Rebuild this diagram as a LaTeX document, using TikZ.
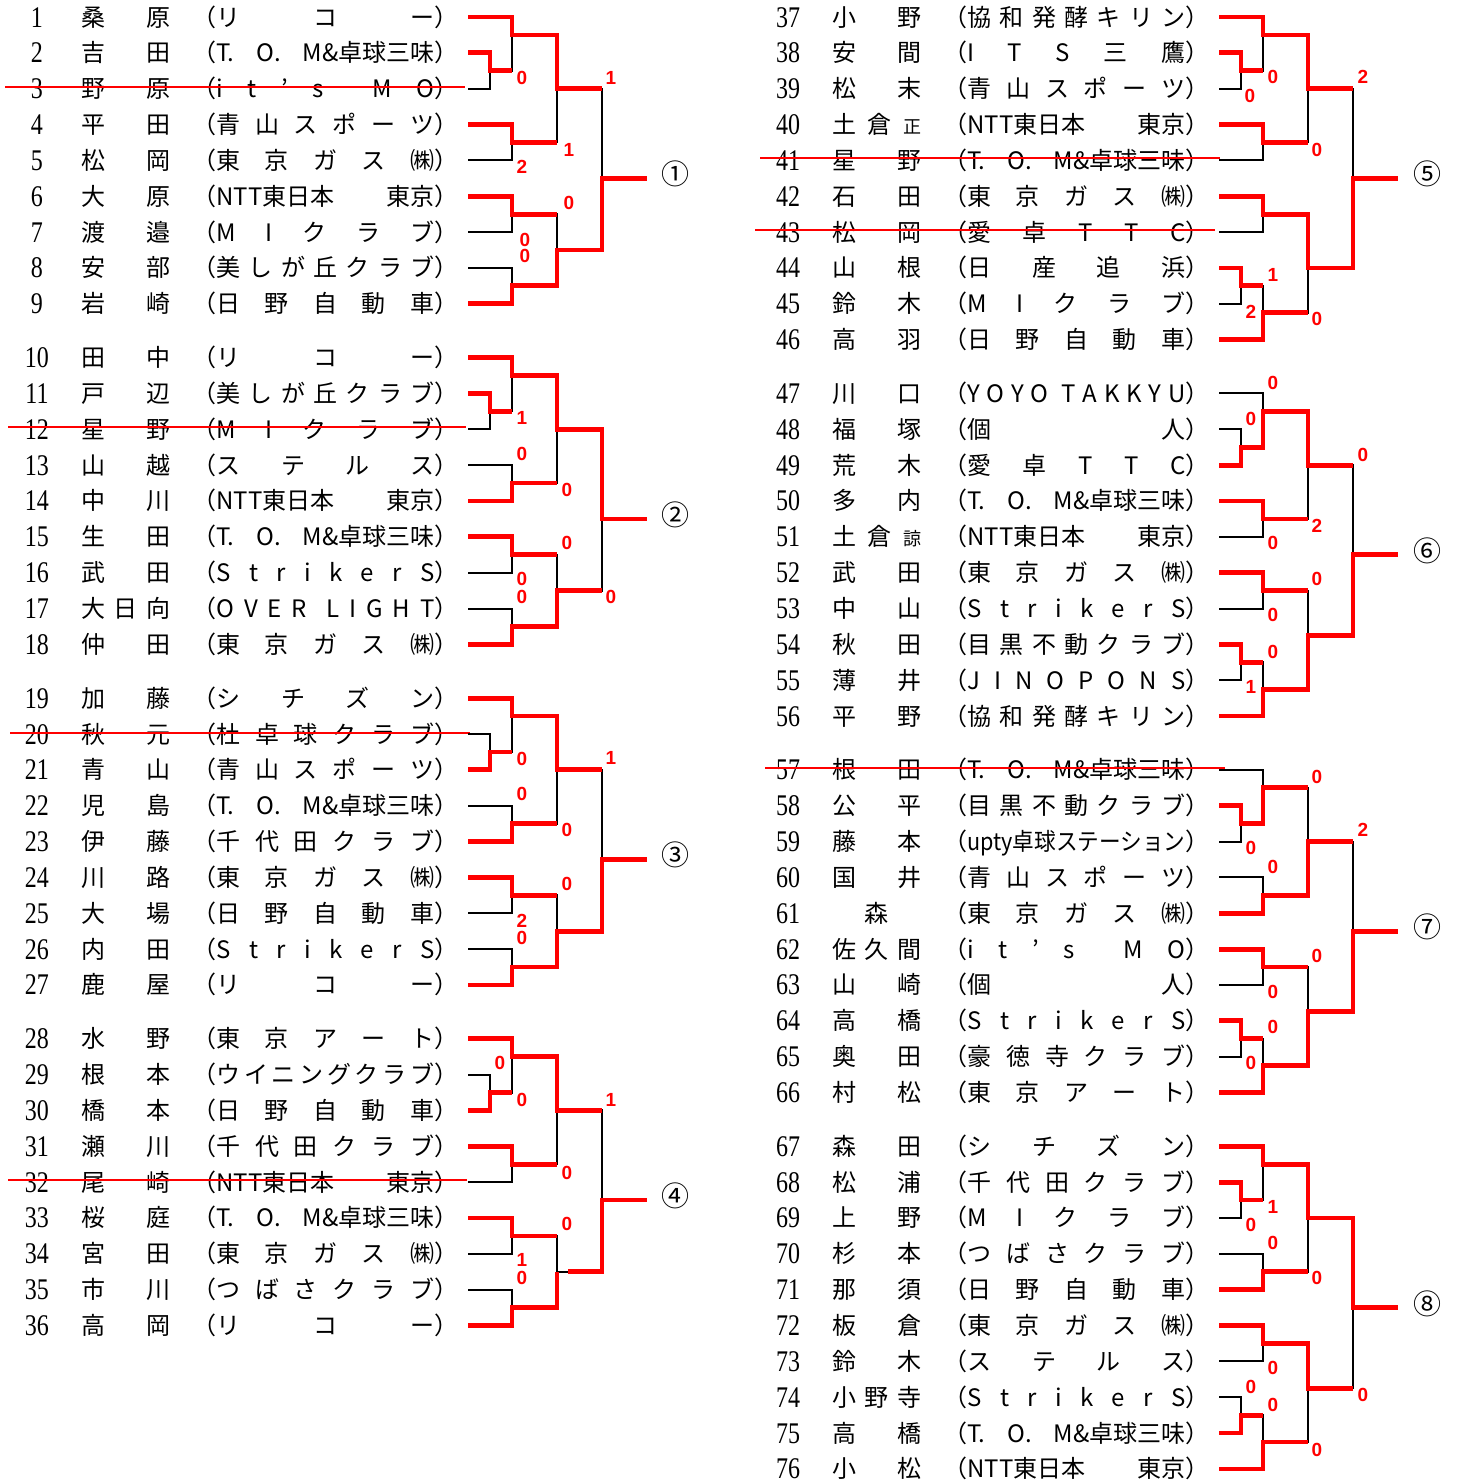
\documentclass[tikz,border=0pt]{standalone}
\usepackage{fontspec}
\setmainfont{Noto Sans CJK JP}
\newfontfamily\numfont[FakeStretch=0.8]{Liberation Serif}
\newfontfamily\scorefont{Liberation Sans}
\usepackage{graphicx}
\definecolor{WinRed}{RGB}{255,0,0}
\newcommand\tom{T.\ O.\ M\&卓球三味}
\newcommand\ntt{NTT東日本 東京}

\begin{document}
\begin{tikzpicture}[
    x=0.5pt, y=-17.925pt,
    num/.style={font=\numfont\fontsize{15pt}{15pt}\selectfont,
      inner sep=0pt, text height=10pt, text depth=0pt},
    player/.style={font=\fontsize{12pt}{12pt}\selectfont, anchor=west,
      inner sep=0pt, text height=10pt, text depth=1pt},
    wire/.style={line width=1pt, black},
    win/.style={line width=2.4pt, WinRed},
    strike/.style={line width=1pt, WinRed},
    score/.style={font=\scorefont\bfseries\fontsize{9.5pt}{9.5pt}\selectfont,
      text=WinRed, inner sep=0pt},
    pool/.style={font=\fontsize{14pt}{14pt}\selectfont, inner sep=0pt,
      text height=11pt, text depth=1pt}
  ]
  \useasboundingbox (0,-0.4742) rectangle (1459,40.9205);

  % left column entries
  \foreach \k/\nm/\tm in {
    1/{桑 原}/{リ コ ー},
    2/{吉 田}/{\tom},
    3/{野 原}/{i t ’ s\ \ M O},
    4/{平 田}/{青 山 ス ポ ー ツ},
    5/{松 岡}/{東 京 ガ ス ㈱},
    6/{大 原}/{\ntt},
    7/{渡 邉}/{M I ク ラ ブ},
    8/{安 部}/{美 し が 丘 ク ラ ブ},
    9/{岩 崎}/{日 野 自 動 車},
    10/{田 中}/{リ コ ー},
    11/{戸 辺}/{美 し が 丘 ク ラ ブ},
    12/{星 野}/{M I ク ラ ブ},
    13/{山 越}/{ス テ ル ス},
    14/{中 川}/{\ntt},
    15/{生 田}/{\tom},
    16/{武 田}/{S t r i k e r S},
    17/{大 日 向}/{O V E R\ \ L I G H T},
    18/{仲 田}/{東 京 ガ ス ㈱},
    19/{加 藤}/{シ チ ズ ン},
    20/{秋 元}/{杜 卓 球 ク ラ ブ},
    21/{青 山}/{青 山 ス ポ ー ツ},
    22/{児 島}/{\tom},
    23/{伊 藤}/{千 代 田 ク ラ ブ},
    24/{川 路}/{東 京 ガ ス ㈱},
    25/{大 場}/{日 野 自 動 車},
    26/{内 田}/{S t r i k e r S},
    27/{鹿 屋}/{リ コ ー},
    28/{水 野}/{東 京 ア ー ト},
    29/{根 本}/{ウ イ ニ ン グ ク ラ ブ},
    30/{橋 本}/{日 野 自 動 車},
    31/{瀬 川}/{千 代 田 ク ラ ブ},
    32/{尾 崎}/{\ntt},
    33/{桜 庭}/{\tom},
    34/{宮 田}/{東 京 ガ ス ㈱},
    35/{市 川}/{つ ば さ ク ラ ブ},
    36/{高 岡}/{リ コ ー}} {
    \pgfmathsetmacro\R{9.5*int((\k-1)/9)+mod(\k-1,9)}
    \node[num] (no\k) at (37,\R) {\k};
    \node[player] (nm\k) at (81,\R) {\makebox[44.5pt][s]{\nm}};
    \node[player] (cl\k) at (192,\R) {（\makebox[109pt][s]{\tm}）};
  }

  % right column entries
  \foreach \k/\nm/\tm in {
    37/{小 野}/{協 和 発 酵 キ リ ン},
    38/{安 間}/{I T S 三 鷹},
    39/{松 末}/{青 山 ス ポ ー ツ},
    40/{土 倉 {\fontsize{9pt}{9pt}\selectfont 正}}/{\ntt},
    41/{星 野}/{\tom},
    42/{石 田}/{東 京 ガ ス ㈱},
    43/{松 岡}/{愛 卓 T T C},
    44/{山 根}/{日 産 追 浜},
    45/{鈴 木}/{M I ク ラ ブ},
    46/{高 羽}/{日 野 自 動 車},
    47/{川 口}/{Y O Y O\ \ T A K K Y U},
    48/{福 塚}/{個 人},
    49/{荒 木}/{愛 卓 T T C},
    50/{多 内}/{\tom},
    51/{土 倉 {\fontsize{9pt}{9pt}\selectfont 諒}}/{\ntt},
    52/{武 田}/{東 京 ガ ス ㈱},
    53/{中 山}/{S t r i k e r S},
    54/{秋 田}/{目 黒 不 動 ク ラ ブ},
    55/{薄 井}/{J I N O P O N S},
    56/{平 野}/{協 和 発 酵 キ リ ン},
    57/{根 田}/{\tom},
    58/{公 平}/{目 黒 不 動 ク ラ ブ},
    59/{藤 本}/{\resizebox{109pt}{\height}{upty卓球ステーション}},
    60/{国 井}/{青 山 ス ポ ー ツ},
    61/{\hfil 森\hfil}/{東 京 ガ ス ㈱},
    62/{佐 久 間}/{i t ’ s\ \ M O},
    63/{山 崎}/{個 人},
    64/{高 橋}/{S t r i k e r S},
    65/{奥 田}/{豪 徳 寺 ク ラ ブ},
    66/{村 松}/{東 京 ア ー ト},
    67/{森 田}/{シ チ ズ ン},
    68/{松 浦}/{千 代 田 ク ラ ブ},
    69/{上 野}/{M I ク ラ ブ},
    70/{杉 本}/{つ ば さ ク ラ ブ},
    71/{那 須}/{日 野 自 動 車},
    72/{板 倉}/{東 京 ガ ス ㈱},
    73/{鈴 木}/{ス テ ル ス},
    74/{小 野 寺}/{S t r i k e r S},
    75/{高 橋}/{\tom},
    76/{小 松}/{\ntt}} {
    \pgfmathsetmacro\R{10.5*int((\k-37)/10)+mod(\k-37,10)}
    \node[num] (no\k) at (788,\R) {\k};
    \node[player] (nm\k) at (832,\R) {\makebox[44.5pt][s]{\nm}};
    \node[player] (cl\k) at (943,\R) {（\makebox[109pt][s]{\tm}）};
  }

  % withdrawn entries
  \draw[strike] (5,1.95) -- (465,1.95);
  \draw[strike] (8,11.45) -- (466,11.45);
  \draw[strike] (10,19.97) -- (470,19.97);
  \draw[strike] (8,32.45) -- (467,32.45);
  \draw[strike] (760,3.94) -- (1220,3.94);
  \draw[strike] (755,5.95) -- (1215,5.95);
  \draw[strike] (765,20.94) -- (1225,20.94);

  % bracket lines, left blocks
  \foreach \b in {0,9.5,19,28.5} {
    \begin{scope}[shift={(0,\b)}]
      \draw[wire] (468,0) -- (512,0) -- (512,1.5) -- (490,1.5);
      \draw[wire] (468,1) -- (490,1) -- (490,2) -- (468,2);
      \draw[wire] (468,3) -- (512,3) -- (512,4) -- (468,4);
      \draw[wire] (468,5) -- (512,5) -- (512,6) -- (468,6);
      \draw[wire] (468,7) -- (512,7) -- (512,8) -- (468,8);
      \draw[wire] (512,0.5) -- (557,0.5) -- (557,3.5) -- (512,3.5);
      \draw[wire] (512,5.5) -- (557,5.5) -- (557,7.5) -- (512,7.5);
      \draw[wire] (557,2) -- (602,2) -- (602,6.5) -- (557,6.5);
      \draw[wire] (602,4.5) -- (647,4.5);
    \end{scope}
  }

  % bracket lines, right blocks
  \foreach \b/\m in {0/7,10.5/6.75,21/6.75,31.5/6.75} {
    \begin{scope}[shift={(751,\b)}]
      \draw[wire] (468,0) -- (512,0) -- (512,1.5) -- (490,1.5);
      \draw[wire] (468,1) -- (490,1) -- (490,2) -- (468,2);
      \draw[wire] (468,3) -- (512,3) -- (512,4) -- (468,4);
      \draw[wire] (468,5) -- (512,5) -- (512,6) -- (468,6);
      \draw[wire] (468,7) -- (490,7) -- (490,8) -- (468,8);
      \draw[wire] (468,9) -- (512,9) -- (512,7.5) -- (490,7.5);
      \draw[wire] (512,0.5) -- (557,0.5) -- (557,3.5) -- (512,3.5);
      \draw[wire] (512,5.5) -- (557,5.5) -- (557,8.25) -- (512,8.25);
      \draw[wire] (557,2) -- (602,2) -- (602,\m) -- (557,\m);
      \draw[wire] (602,4.5) -- (647,4.5);
    \end{scope}
  }

  % block 1
  \begin{scope}
    \draw[win] (468,0) -- (512,0) -- (512,0.5) -- (557,0.5) -- (557,2) -- (602,2);
    \draw[win] (468,1) -- (490,1) -- (490,1.5) -- (512,1.5);
    \draw[win] (468,3) -- (512,3) -- (512,3.5) -- (557,3.5);
    \draw[win] (468,5) -- (512,5) -- (512,5.5) -- (557,5.5);
    \draw[win] (468,8) -- (512,8) -- (512,7.5) -- (557,7.5) -- (557,6.5)
      -- (602,6.5) -- (602,4.5) -- (647,4.5);
    \foreach \x/\y/\v [count=\i] in {522/1.70/0, 611/1.70/1, 569/3.71/1,
        522/4.18/2, 569/5.19/0, 525/6.22/0, 525/6.67/0}
      \node[score] (s1-\i) at (\x,\y) {\v};
    \node[pool] (pool1) at (675,4.4) {①};
  \end{scope}

  % block 2
  \begin{scope}[shift={(0,9.5)}]
    \draw[win] (468,0) -- (512,0) -- (512,0.5) -- (557,0.5) -- (557,2) -- (602,2)
      -- (602,4.5) -- (647,4.5);
    \draw[win] (468,1) -- (490,1) -- (490,1.5) -- (512,1.5);
    \draw[win] (468,4) -- (512,4) -- (512,3.5) -- (557,3.5);
    \draw[win] (468,5) -- (512,5) -- (512,5.5) -- (557,5.5);
    \draw[win] (468,8) -- (512,8) -- (512,7.5) -- (557,7.5) -- (557,6.5) -- (602,6.5);
    \foreach \x/\y/\v [count=\i] in {522/1.69/1, 522/2.69/0, 567/3.70/0,
        567/5.17/0, 522/6.18/0, 522/6.67/0, 611/6.67/0}
      \node[score] (s2-\i) at (\x,\y) {\v};
    \node[pool] (pool2) at (675,4.4) {②};
  \end{scope}

  % block 3
  \begin{scope}[shift={(0,19)}]
    \draw[win] (468,0) -- (512,0) -- (512,0.5) -- (557,0.5) -- (557,2) -- (602,2);
    \draw[win] (468,2) -- (490,2) -- (490,1.5) -- (512,1.5);
    \draw[win] (468,4) -- (512,4) -- (512,3.5) -- (557,3.5);
    \draw[win] (468,5) -- (512,5) -- (512,5.5) -- (557,5.5);
    \draw[win] (468,8) -- (512,8) -- (512,7.5) -- (557,7.5) -- (557,6.5)
      -- (602,6.5) -- (602,4.5) -- (647,4.5);
    \foreach \x/\y/\v [count=\i] in {522/1.69/0, 611/1.66/1, 522/2.68/0,
        567/3.68/0, 567/5.18/0, 522/6.20/2, 522/6.69/0}
      \node[score] (s3-\i) at (\x,\y) {\v};
    \node[pool] (pool3) at (675,4.4) {③};
  \end{scope}

  % block 4
  \begin{scope}[shift={(0,28.5)}]
    \draw[win] (468,0) -- (512,0) -- (512,0.5) -- (557,0.5) -- (557,2) -- (602,2);
    \draw[win] (468,2) -- (490,2) -- (490,1.5) -- (512,1.5);
    \draw[win] (468,3) -- (512,3) -- (512,3.5) -- (557,3.5);
    \draw[win] (468,5) -- (512,5) -- (512,5.5) -- (557,5.5);
    \draw[win] (468,8) -- (512,8) -- (512,7.5) -- (557,7.5) -- (557,6.5);
    \draw[win] (568,6.5) -- (602,6.5) -- (602,4.5) -- (647,4.5);
    \foreach \x/\y/\v [count=\i] in {500/0.68/0, 522/1.70/0, 611/1.70/1,
        567/3.73/0, 567/5.17/0, 522/6.18/1, 522/6.68/0}
      \node[score] (s4-\i) at (\x,\y) {\v};
    \node[pool] (pool4) at (675,4.4) {④};
  \end{scope}

  % block 5
  \begin{scope}[shift={(751,0)}]
    \draw[win] (468,0) -- (512,0) -- (512,0.5) -- (557,0.5) -- (557,2) -- (602,2);
    \draw[win] (468,1) -- (490,1) -- (490,1.5) -- (512,1.5);
    \draw[win] (468,3) -- (512,3) -- (512,3.5) -- (557,3.5);
    \draw[win] (468,5) -- (512,5) -- (512,5.5) -- (557,5.5) -- (557,7)
      -- (602,7) -- (602,4.5) -- (647,4.5);
    \draw[win] (468,7) -- (490,7) -- (490,7.5) -- (512,7.5);
    \draw[win] (468,9) -- (512,9) -- (512,8.25) -- (557,8.25);
    \foreach \x/\y/\v [count=\i] in {612/1.68/2, 522/1.68/0, 499/2.20/0,
        566/3.70/0, 522/7.20/1, 500/8.22/2, 566/8.43/0}
      \node[score] (s5-\i) at (\x,\y) {\v};
    \node[pool] (pool5) at (676,4.4) {⑤};
  \end{scope}

  % block 6
  \begin{scope}[shift={(751,10.5)}]
    \draw[win] (468,2) -- (490,2) -- (490,1.5) -- (512,1.5) -- (512,0.5)
      -- (557,0.5) -- (557,2) -- (602,2);
    \draw[win] (468,3) -- (512,3) -- (512,3.5) -- (557,3.5);
    \draw[win] (468,5) -- (512,5) -- (512,5.5) -- (557,5.5);
    \draw[win] (468,7) -- (490,7) -- (490,7.5) -- (512,7.5);
    \draw[win] (468,9) -- (512,9) -- (512,8.25) -- (557,8.25) -- (557,6.75)
      -- (602,6.75) -- (602,4.5) -- (647,4.5);
    \foreach \x/\y/\v [count=\i] in {522/-0.29/0, 500/0.72/0, 612/1.71/0,
        566/3.70/2, 522/4.17/0, 566/5.18/0, 522/6.18/0, 522/7.21/0, 500/8.19/1}
      \node[score] (s6-\i) at (\x,\y) {\v};
    \node[pool] (pool6) at (676,4.4) {⑥};
  \end{scope}

  % block 7
  \begin{scope}[shift={(751,21)}]
    \draw[win] (468,1) -- (490,1) -- (490,1.5) -- (512,1.5) -- (512,0.5) -- (557,0.5);
    \draw[win] (468,4) -- (512,4) -- (512,3.5) -- (557,3.5) -- (557,2) -- (602,2);
    \draw[win] (468,5) -- (512,5) -- (512,5.5) -- (557,5.5);
    \draw[win] (468,7) -- (490,7) -- (490,7.5) -- (512,7.5);
    \draw[win] (468,9) -- (512,9) -- (512,8.25) -- (557,8.25) -- (557,6.75)
      -- (602,6.75) -- (602,4.5) -- (647,4.5);
    \foreach \x/\y/\v [count=\i] in {566/0.19/0, 612/1.67/2, 500/2.18/0,
        522/2.70/0, 566/5.19/0, 522/6.19/0, 522/7.17/0, 500/8.18/0}
      \node[score] (s7-\i) at (\x,\y) {\v};
    \node[pool] (pool7) at (676,4.4) {⑦};
  \end{scope}

  % block 8
  \begin{scope}[shift={(751,31.5)}]
    \draw[win] (468,0) -- (512,0) -- (512,0.5) -- (557,0.5) -- (557,2) -- (602,2)
      -- (602,4.5) -- (647,4.5);
    \draw[win] (468,1) -- (490,1) -- (490,1.5) -- (512,1.5);
    \draw[win] (468,4) -- (512,4) -- (512,3.5) -- (557,3.5);
    \draw[win] (468,5) -- (512,5) -- (512,5.5) -- (557,5.5) -- (557,6.75) -- (602,6.75);
    \draw[win] (468,8) -- (490,8) -- (490,7.5) -- (512,7.5);
    \draw[win] (468,9) -- (512,9) -- (512,8.25) -- (557,8.25);
    \foreach \x/\y/\v [count=\i] in {522/1.69/1, 500/2.20/0, 522/2.70/0,
        566/3.67/0, 522/6.18/0, 500/6.71/0, 522/7.21/0, 612/6.94/0, 566/8.46/0}
      \node[score] (s8-\i) at (\x,\y) {\v};
    \node[pool] (pool8) at (676,4.4) {⑧};
  \end{scope}

\end{tikzpicture}
\end{document}
